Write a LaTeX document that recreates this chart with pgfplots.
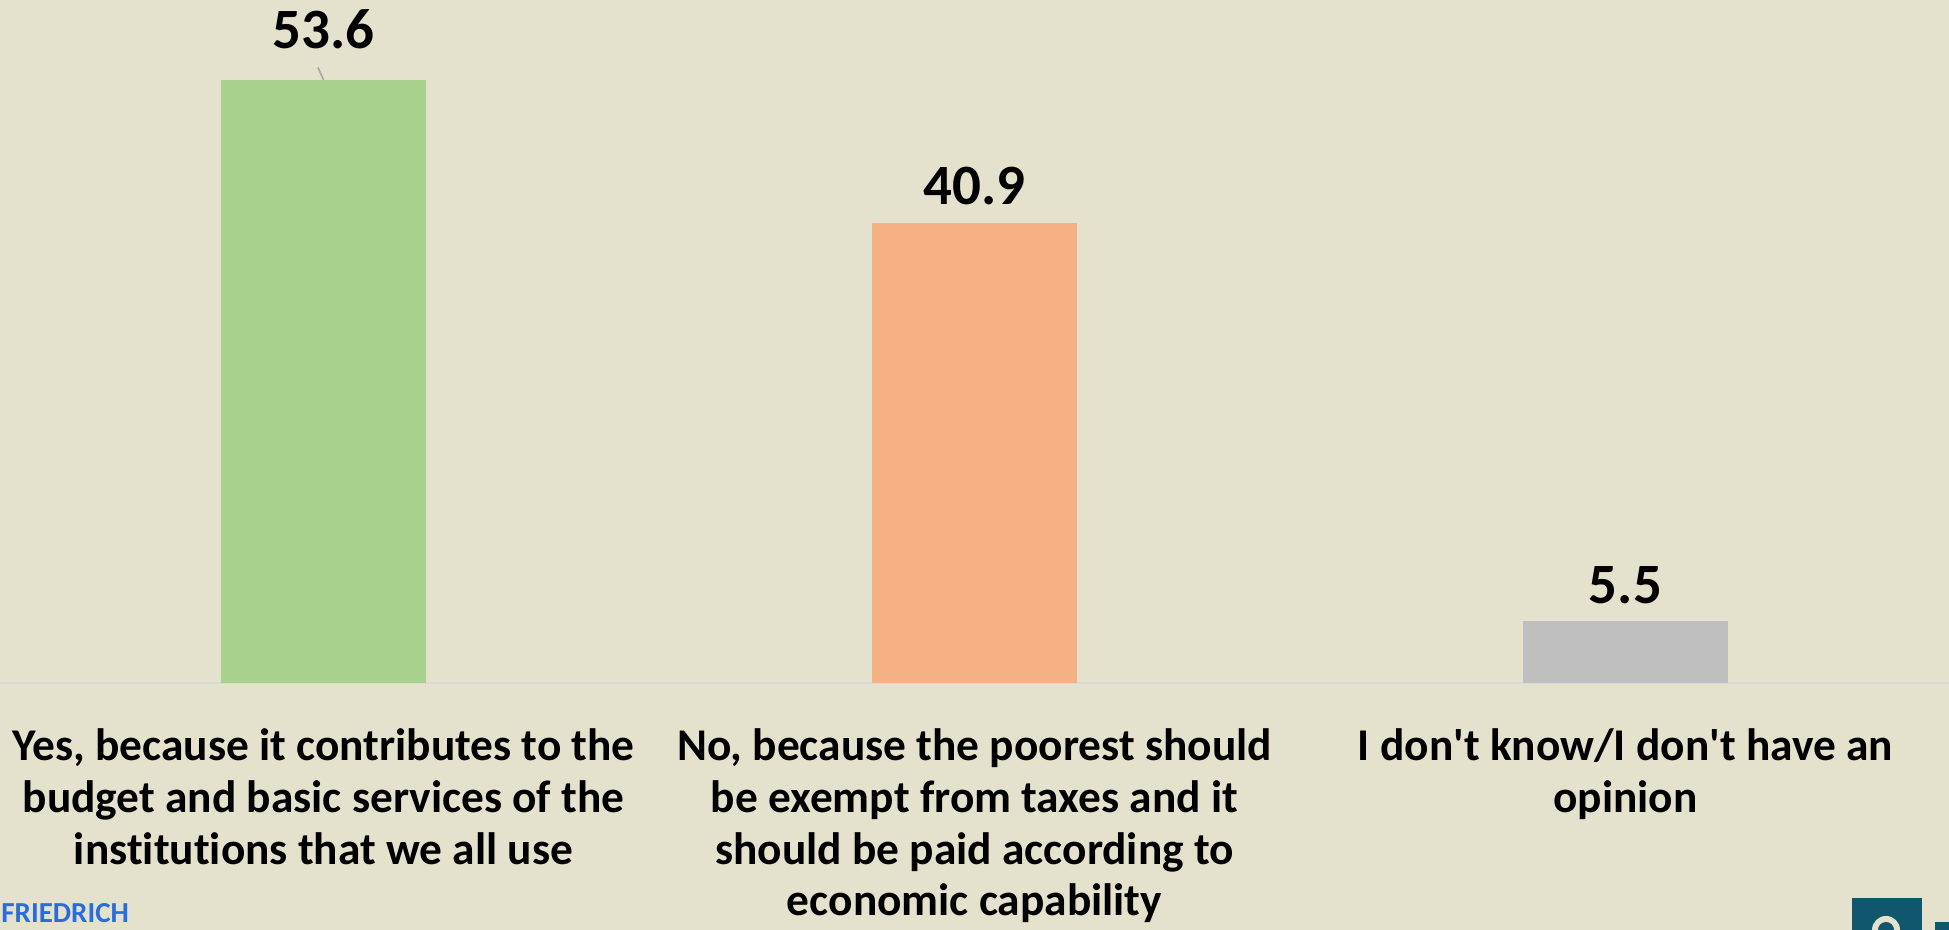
\documentclass[border=0pt]{standalone}
\usepackage{pgfplots}
\pgfplotsset{compat=1.18}
\usepackage{fontspec}
\setmainfont{Carlito}[Ligatures={NoCommon}]
\definecolor{bg}{HTML}{E4E2CC}
\definecolor{barGreen}{HTML}{A9D18E}
\definecolor{barOrange}{HTML}{F4B183}
\definecolor{barGray}{HTML}{BFBFBF}
\definecolor{axisgray}{HTML}{D9D9D9}
\definecolor{logoBlue}{HTML}{2B6CDC}
\definecolor{logoTeal}{HTML}{0F566E}
\begin{document}
\begin{tikzpicture}[x=1pt,y=1pt]
\fill[bg] (0,-123.5) rectangle (974.5,341.5);
\useasboundingbox (0,-123.5) rectangle (974.5,341.5);
\clip (0,-123.5) rectangle (974.5,341.5);
\begin{axis}[
  at={(0,0)}, anchor=south west,
  scale only axis, width=974.5pt, height=341.5pt,
  xmin=-0.497, xmax=2.497, ymin=0, ymax=60.7,
  clip=false,
  ybar, bar width=102.5pt, bar shift=0pt,
  hide y axis,
  axis x line=bottom,
  x axis line style={-, draw=axisgray, line width=1pt},
  xtick={0,1,2},
  xticklabels={
    {Yes, because it contributes to the\\budget and basic services of the\\institutions that we all use},
    {No, because the poorest should\\be exempt from taxes and it\\should be paid according to\\economic capability},
    {I don\textquotesingle t know/I don\textquotesingle t have an\\opinion}},
  major tick length=0pt,
  xticklabel style={font=\bfseries\fontsize{22.7}{25.8}\selectfont, align=center, anchor=north, yshift=-19.5pt},
  point meta=explicit symbolic,
  nodes near coords={\pgfplotspointmeta},
  nodes near coords style={font=\bfseries\fontsize{28.5}{30}\selectfont, anchor=south, inner sep=0pt, yshift=8.5pt, text=black},
]
\addplot[fill=barGreen, draw=none, nodes near coords style={yshift=7pt}] coordinates {(0,53.6) [53.6]};
\addplot[fill=barOrange, draw=none] coordinates {(1,40.9) [40.9]};
\addplot[fill=barGray, draw=none] coordinates {(2,5.5) [5.5]};
\draw[gray!70, line width=0.8pt] (axis cs:-0.0085,54.7) -- (axis cs:0,53.6);
\end{axis}
% decorative logos
\node[anchor=base west, inner sep=0pt, text=logoBlue, font=\bfseries\fontsize{14.5}{15}\selectfont] at (0.5,-120) {FRIEDRICH};
\fill[logoTeal] (926,-123.5) rectangle (961,-107.5);
\fill[bg] (943,-123.5) circle (7);
\fill[logoTeal] (943,-123.5) circle (4);
\fill[logoTeal] (967.5,-123.5) rectangle (974.5,-119.5);
\end{tikzpicture}
\end{document}
